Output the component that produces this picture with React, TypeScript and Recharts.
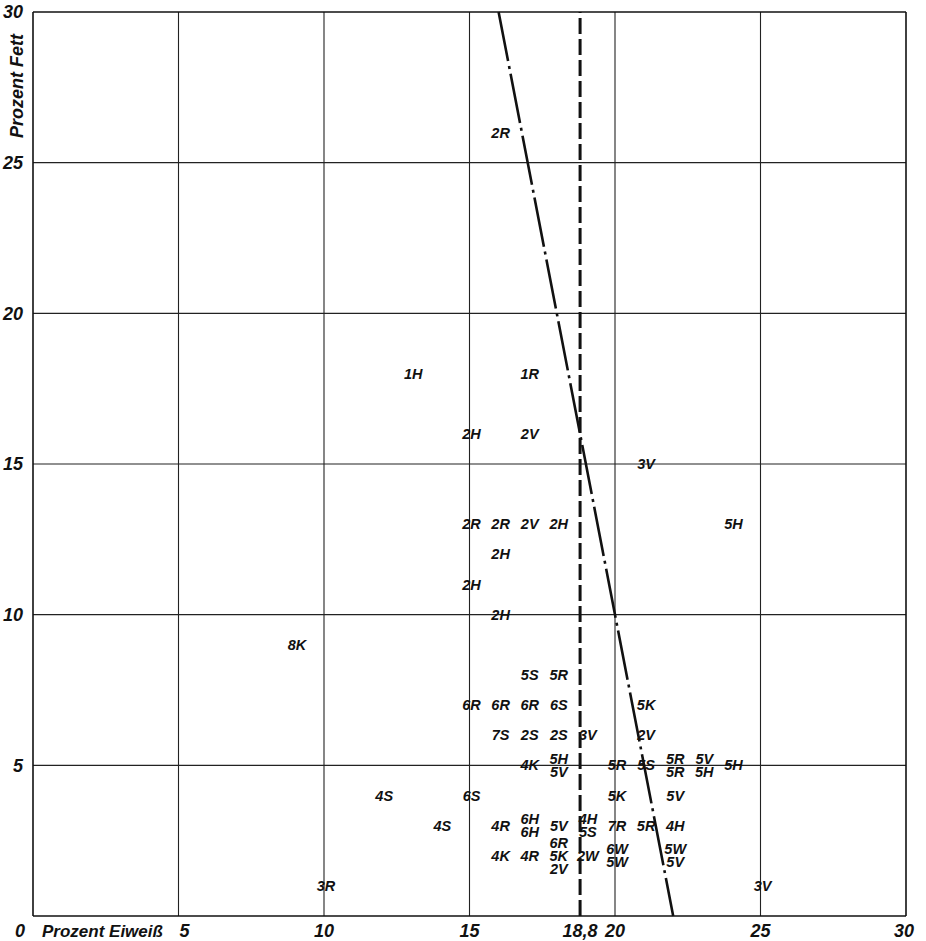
import { ReferenceLine, Scatter, ScatterChart, XAxis, YAxis } from "recharts";

// Eiweiß (x) / Fett (y) in Prozent, Beschriftung je Punkt ("/" = übereinander)
const eiweiss = [
  16, 13, 17, 15, 17, 21, 24, 15, 16, 17, 18, 16, 15, 16, 9,
  17, 18, 15, 16, 17, 18, 21, 16, 17, 18, 19, 21,
  18, 17, 20, 21, 22, 23, 24,
  12, 15, 20, 22,
  14, 16, 17, 18, 19, 20, 21, 22,
  16, 17, 18, 19, 20, 22,
  10, 25,
];
const fett = [
  26, 18, 18, 16, 16, 15, 13, 13, 13, 13, 13, 12, 11, 10, 9,
  8, 8, 7, 7, 7, 7, 7, 6, 6, 6, 6, 6,
  5, 5, 5, 5, 5, 5, 5,
  4, 4, 4, 4,
  3, 3, 3, 3, 3, 3, 3, 3,
  2, 2, 2, 2, 2, 2,
  1, 1,
];
const kennung = [
  "2R", "1H", "1R", "2H", "2V", "3V", "5H", "2R", "2R", "2V", "2H", "2H", "2H", "2H", "8K",
  "5S", "5R", "6R", "6R", "6R", "6S", "5K", "7S", "2S", "2S", "3V", "2V",
  "5H/5V", "4K", "5R", "5S", "5R/5R", "5V/5H", "5H",
  "4S", "6S", "5K", "5V",
  "4S", "4R", "6H/6H", "5V", "4H/5S", "7R", "5R", "4H",
  "4K", "4R", "6R/5K/2V", "2W", "6W/5W", "5W/5V",
  "3R", "3V",
];

const xTicks = [0, 5, 10, 15, 18.8, 20, 25, 30];
const yTicks = [5, 10, 15, 20, 25, 30];
const gridX = [5, 10, 15, 20, 25];
const gridY = [5, 10, 15, 20, 25];
const grenzeEiweiss = 18.8;
const schraege = [
  { x: 16, y: 30 },
  { x: 22, y: 0 },
];

const points = eiweiss.map((x, i) => ({ x, y: fett[i], label: kennung[i] }));

const FONT = "'Liberation Sans', Arial, sans-serif";

function PointLabel(props: any) {
  const { cx, cy, payload } = props;
  const lines: string[] = payload.label.split("/");
  const lh = 13;
  const start = cy - ((lines.length - 1) * lh) / 2;
  return (
    <text
      x={cx + 2}
      textAnchor="middle"
      fontFamily={FONT}
      fontStyle="italic"
      fontWeight="bold"
      fontSize={14.5}
      fill="#111"
    >
      {lines.map((l, i) => (
        <tspan key={i} x={cx + 2} y={start + i * lh} dy="0.35em">
          {l}
        </tspan>
      ))}
    </text>
  );
}

function XTick(props: any) {
  const { x, y, payload } = props;
  const v = payload.value;
  const common = {
    fontFamily: FONT,
    fontStyle: "italic" as const,
    fontWeight: "bold" as const,
    fontSize: 18,
    fill: "#111",
  };
  if (v === 0) {
    return (
      <g>
        <text x={x - 13} y={y + 13} textAnchor="middle" {...common}>
          0
        </text>
        <text x={x + 9} y={y + 13} textAnchor="start" {...common} fontSize={17}>
          Prozent Eiweiß
        </text>
      </g>
    );
  }
  const label = Math.abs(v - 18.8) < 0.01 ? "18,8" : String(v);
  const shift = v === 5 ? 6 : v === 30 ? -2 : 0;
  return (
    <text x={x + shift} y={y + 13} textAnchor="middle" {...common}>
      {label}
    </text>
  );
}

function YTick(props: any) {
  const { x, y, payload } = props;
  return (
    <text
      x={x - 2}
      y={y}
      dy="0.35em"
      textAnchor="end"
      fontFamily={FONT}
      fontStyle="italic"
      fontWeight="bold"
      fontSize={18}
      fill="#111"
    >
      {payload.value}
    </text>
  );
}

export default function App() {
  return (
    <div style={{ position: "absolute", left: 0, top: 0, width: 926, height: 941, background: "#fff" }}>
      <ScatterChart width={926} height={941} margin={{ top: 12, right: 20, left: 0, bottom: 0 }}>
        <XAxis
          type="number"
          dataKey="x"
          domain={[0, 30]}
          ticks={xTicks}
          interval={0}
          tickLine={false}
          axisLine={{ stroke: "#111", strokeWidth: 1.6 }}
          tick={<XTick />}
          height={25}
        />
        <YAxis
          type="number"
          dataKey="y"
          domain={[0, 30]}
          ticks={yTicks}
          interval={0}
          tickLine={false}
          axisLine={{ stroke: "#111", strokeWidth: 1.6 }}
          tick={<YTick />}
          width={33}
          label={{
            value: "Prozent Fett",
            content: () => (
              <text
                x={17}
                y={86}
                transform="rotate(-90 17 86)"
                textAnchor="middle"
                dominantBaseline="central"
                fontFamily={FONT}
                fontStyle="italic"
                fontWeight="bold"
                fontSize={18}
                fill="#111"
              >
                Prozent Fett
              </text>
            ),
          }}
        />
        {gridX.map((v) => (
          <ReferenceLine key={"gx" + v} x={v} stroke="#222" strokeWidth={1.1} />
        ))}
        {gridY.map((v) => (
          <ReferenceLine key={"gy" + v} y={v} stroke="#222" strokeWidth={1.1} />
        ))}
        <ReferenceLine x={30} stroke="#111" strokeWidth={1.6} />
        <ReferenceLine y={30} stroke="#111" strokeWidth={1.6} />
        <ReferenceLine x={grenzeEiweiss} stroke="#111" strokeWidth={3} strokeDasharray="16 5" />
        <ReferenceLine
          segment={schraege}
          stroke="#111"
          strokeWidth={2.6}
          strokeDasharray="50 5 3 5"
        />
        <Scatter data={points} shape={<PointLabel />} isAnimationActive={false} />
      </ScatterChart>
    </div>
  );
}
